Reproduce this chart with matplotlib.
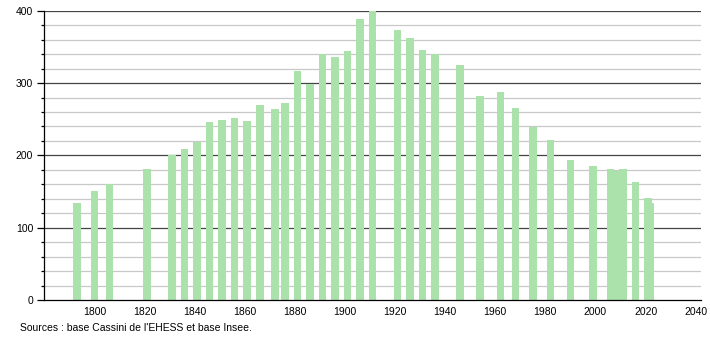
import matplotlib.pyplot as plt
from matplotlib.ticker import MultipleLocator

years = [1793, 1800, 1806, 1821, 1831, 1836, 1841, 1846, 1851, 1856,
         1861, 1866, 1872, 1876, 1881, 1886, 1891, 1896, 1901, 1906,
         1911, 1921, 1926, 1931, 1936, 1946, 1954, 1962, 1968, 1975,
         1982, 1990, 1999, 2006, 2008, 2011, 2016, 2021, 2022]
population = [134, 151, 161, 181, 200, 209, 219, 246, 249, 252,
              247, 270, 264, 272, 317, 299, 340, 336, 344, 388,
              400, 373, 362, 346, 340, 325, 282, 287, 266, 239,
              221, 194, 185, 181, 179, 181, 163, 141, 134]
x_ticks = list(range(1800, 2041, 20))
source = "Sources : base Cassini de l'EHESS et base Insee."


def main():
    plt.rcParams['font.family'] = ['Liberation Sans', 'DejaVu Sans']
    fig = plt.figure(figsize=(7.1, 3.4), dpi=100)
    ax = fig.add_axes([0.0624, 0.1176, 0.9245, 0.8509])

    # grid: light minor lines every 20, dark major lines every 100
    for v in range(20, 401, 20):
        if v % 100 == 0:
            ax.axhline(v, color='#444444', lw=0.9, zorder=1)
        else:
            ax.axhline(v, color='#c8c8c8', lw=0.9, zorder=1)

    ax.bar(years, population, width=3.0, color='#abe2ab', zorder=2)

    ax.set_xlim(1780, 2042)
    ax.set_ylim(0, 400)
    ax.set_xticks(x_ticks)
    ax.yaxis.set_major_locator(MultipleLocator(100))
    ax.yaxis.set_minor_locator(MultipleLocator(20))
    ax.tick_params(axis='x', length=0, labelsize=7.5, pad=5)
    ax.tick_params(axis='y', which='major', length=5, width=0.9,
                   labelsize=7.5, pad=3)
    ax.tick_params(axis='y', which='minor', length=2.5, width=0.9)

    for side in ['top', 'right']:
        ax.spines[side].set_visible(False)
    ax.spines['left'].set_linewidth(0.9)
    ax.spines['bottom'].set_linewidth(0.9)

    fig.text(20 / 710, 1 - 328 / 340, source, fontsize=7.5, va='center')

    fig.savefig('out.png', dpi=100)


if __name__ == '__main__':
    main()
